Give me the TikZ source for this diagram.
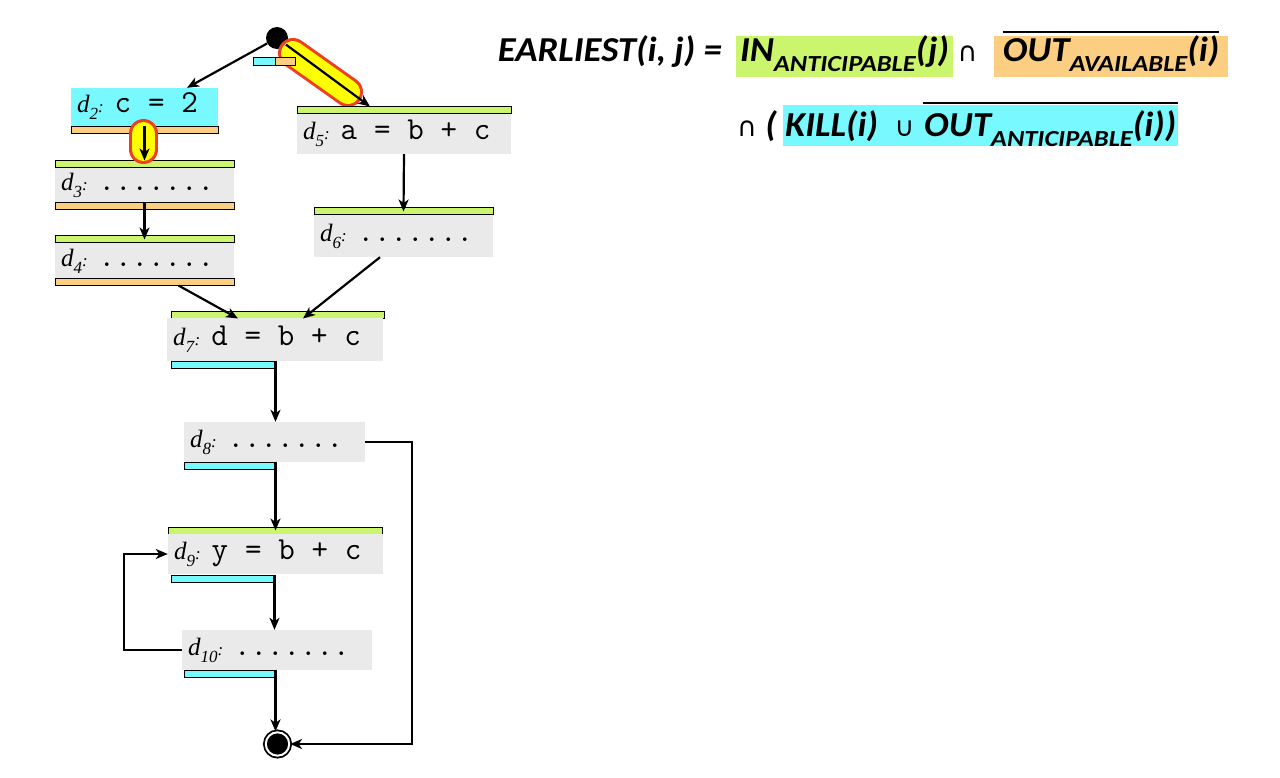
\documentclass[tikz,border=0pt]{standalone}
\usepackage{fontspec}
\setmainfont{Liberation Serif}
\setmonofont{Latin Modern Mono}
\newfontfamily\eqfont[FakeStretch=1.05]{Carlito}
\newfontfamily\eqsubfont[FakeStretch=1.15]{Carlito}
\newfontfamily\symfont{DejaVu Sans}
\usetikzlibrary{arrows.meta,calc}

\definecolor{stmtgray}{RGB}{234,234,234}
\definecolor{ingreen}{RGB}{204,245,110}
\definecolor{outorange}{RGB}{252,206,130}
\definecolor{killcyan}{RGB}{120,248,255}
\definecolor{hlyellow}{RGB}{255,255,0}
\definecolor{hlred}{RGB}{238,64,32}

\newcommand\dlab[1]{\textit{d}\raisebox{-7pt}{\fontsize{17}{17}\selectfont\textit{#1}}{\fontsize{17}{17}\selectfont\textit{:}}\hspace{11pt}}
\newcommand\code[1]{{\ttfamily\fontsize{32}{32}\selectfont\spaceskip=0.525em\relax #1}}
\newcommand\eqsub[1]{\raisebox{-10pt}{\eqsubfont\bfseries\itshape\fontsize{23}{23}\selectfont #1}}
\newcommand\opsym[1]{{\symfont\mdseries\upshape\fontsize{27}{27}\selectfont #1}}

\begin{document}
\begin{tikzpicture}[x=1pt,y=1pt,yscale=-1,
  stmt/.style={fill=stmtgray, inner xsep=6pt, inner ysep=0pt, align=left, text height=19pt, text depth=8pt, font=\fontsize{25}{25}\selectfont},
  bar/.style={draw, line width=1pt, minimum height=7pt, inner sep=0pt},
  inbar/.style={bar, fill=ingreen},
  avbar/.style={bar, fill=outorange},
  killbar/.style={bar, fill=killcyan},
  tip/.style={-{Stealth[length=12pt,width=10pt,inset=3.5pt]}},
  flow/.style={tip, line width=2.2pt},
  eqtxt/.style={font=\eqfont\bfseries\itshape\fontsize{35}{35}\selectfont, inner sep=0pt},
  eqbox/.style={text height=26pt, text depth=15pt, inner ysep=0pt},
  eqkill/.style={text height=32pt, text depth=9pt, inner ysep=0pt},
  overbar/.style={line width=2.5pt},
  capsule/.style={line width=#1, line cap=round}]
\path[use as bounding box] (0,0) rectangle (1280,778);

% Start / end
\node[circle, fill=black, minimum size=22pt, inner sep=0pt] (start) at (277,38) {};
\node[circle, fill=black, draw=black, line width=1.8pt, double=white, double distance=2pt, minimum size=23.4pt, inner sep=0pt] (stop) at (277.5,744) {};

% Highlight
\coordinate (hlaa) at (293,53);
\coordinate (hlab) at (348,92);
\draw[hlred, capsule=30pt] (hlaa) -- (hlab);
\draw[hlyellow, capsule=24pt] (hlaa) -- (hlab);
\node[killbar, minimum width=22pt, minimum height=8pt] (startkill) at (264,62) {};
\node[avbar, minimum width=20pt, minimum height=8pt] (startav) at (285,62) {};

% Text Node
\node[stmt, fill=killcyan, text width=135pt, minimum height=38pt] (d2) at (144.5,107) {\dlab{2}\code{c = 2}};
\node[avbar, minimum width=147pt] (d2out) at (144.5,130.5) {};
% Text Node
\node[inbar, minimum width=179pt] (d3in) at (144.5,164.5) {};
\node[stmt, text width=167pt, minimum height=35pt] (d3) at (144.5,185.5) {\dlab{3}\code{.......}};
\node[avbar, minimum width=179pt] (d3out) at (144.5,206.5) {};
% Text Node
\node[inbar, minimum width=179pt] (d4in) at (144.5,239.5) {};
\node[stmt, text width=167pt, minimum height=35pt] (d4) at (144.5,260.5) {\dlab{4}\code{.......}};
\node[avbar, minimum width=179pt] (d4out) at (144.5,281.5) {};
% Text Node
\node[inbar, minimum width=214pt] (d5in) at (404,110.5) {};
\node[stmt, text width=202pt, minimum height=40pt] (d5) at (404,134) {\dlab{5}\code{a = b + c}};
% Text Node
\node[inbar, minimum width=179pt] (d6in) at (403.5,211.5) {};
\node[stmt, text width=167pt, minimum height=42pt] (d6) at (403.5,236) {\dlab{6}\code{.......}};
% Text Node
\node[inbar, minimum width=213pt] (d7in) at (277.5,314.5) {};
\node[stmt, text width=204pt, minimum height=43pt] (d7) at (275,339.5) {\dlab{7}\code{d = b + c}};
\node[killbar, minimum width=104pt] (d7out) at (223,364.5) {};
% Text Node
\node[stmt, text width=169pt, minimum height=40pt] (d8) at (274.5,442) {\dlab{8}\code{.......}};
\node[killbar, minimum width=91pt] (d8out) at (229.5,465.5) {};
% Text Node
\node[inbar, minimum width=214pt] (d9in) at (275,530.5) {};
\node[stmt, text width=203pt, minimum height=40pt] (d9) at (275.5,554) {\dlab{9}\code{y = b + c}};
\node[killbar, minimum width=103pt] (d9out) at (222.5,578.5) {};
% Text Node
\node[stmt, text width=178pt, minimum height=40pt] (d10) at (277,650) {\dlab{10}\code{.......}};
\node[killbar, minimum width=91pt] (d10out) at (229.5,673.5) {};

% Highlight
\coordinate (hlba) at (143.5,133.5);
\coordinate (hlbb) at (143.5,149.5);
\draw[hlred, capsule=29pt] (hlba) -- (hlbb);
\draw[hlyellow, capsule=23pt] (hlba) -- (hlbb);

% Connection
\draw[flow] (start) -- ([xshift=42.5pt]d2.north);
% Connection
\draw[flow] (start) -- ([xshift=-34pt]d5in.north);
% Connection
\draw[flow] (d2out.north) -- (d3in.north);
% Connection
\draw[flow] (d3out.north) -- (d4in.center);
% Connection
\draw[flow] (d5.south) -- (d6in.center);
% Connection
\draw[flow] ([xshift=34pt]d4out.south) -- ([xshift=-39.5pt]d7in.south);
% Connection
\draw[flow] ([xshift=-23.5pt]d6.south) -- ([xshift=25.5pt]d7in.south);
% Connection
\draw[flow] (d7out.north east) -- (d7out.north east |- d8.north);
% Connection
\draw[flow] (d8out.north east) -- (d8out.north east |- d9in.center);
% Connection
\draw[flow] (d9out.north east) -- (d9out.north east |- d10.north);
% Connection
\draw[flow] (d10out.north east) -- (d10out.north east |- stop.north);
% Connection
\draw[flow] (d8.east) -- ++(47,0) |- (stop);
% Connection
\draw[flow] (d10.west) -- ++(-58,0) |- (d9.west);

% Text Node
\node[eqtxt, anchor=base east] (earliest) at (722,62) {EARLIEST(i, j) =};
\node[eqtxt, eqbox, fill=ingreen, inner xsep=4pt, anchor=base] (inant) at (844.5,62) {IN\eqsub{ANTICIPABLE}(j)};
\node[anchor=base, inner sep=0pt] (cap1) at (967.5,62) {\opsym{∩}};
\node[eqtxt, eqbox, fill=outorange, inner xsep=9pt, anchor=base] (outav) at (1111,62) {OUT\eqsub{AVAILABLE}(i)};
\draw[overbar] ($(outav.north west)+(9,-4)$) -- ($(outav.north east)+(-9,-4)$);
% Text Node
\node[eqtxt, anchor=base west] (cap2) at (737,137) {\opsym{∩} (};
\path (783,137) node[eqtxt, eqkill, inner xsep=2pt, anchor=base west] (kill) {\phantom{KILL(i)\ \ \opsym{∪}\,}}
  (kill.base east) node[eqtxt, eqkill, inner xsep=1.5pt, anchor=base west] (outant) {\phantom{OUT\eqsub{ANTICIPABLE}(i))}};
\fill[killcyan] (kill.north west) rectangle (outant.south east);
\node[eqtxt, eqkill, inner xsep=2pt, anchor=base west] (killtxt) at (kill.base west) {KILL(i)\ \ \opsym{∪}\,};
\node[eqtxt, eqkill, inner xsep=1.5pt, anchor=base west] (outanttxt) at (outant.base west) {OUT\eqsub{ANTICIPABLE}(i))};
\draw[overbar] ($(outanttxt.north west)+(0,-2)$) -- ($(outanttxt.north east)+(0,-2)$);

\end{tikzpicture}
\end{document}
